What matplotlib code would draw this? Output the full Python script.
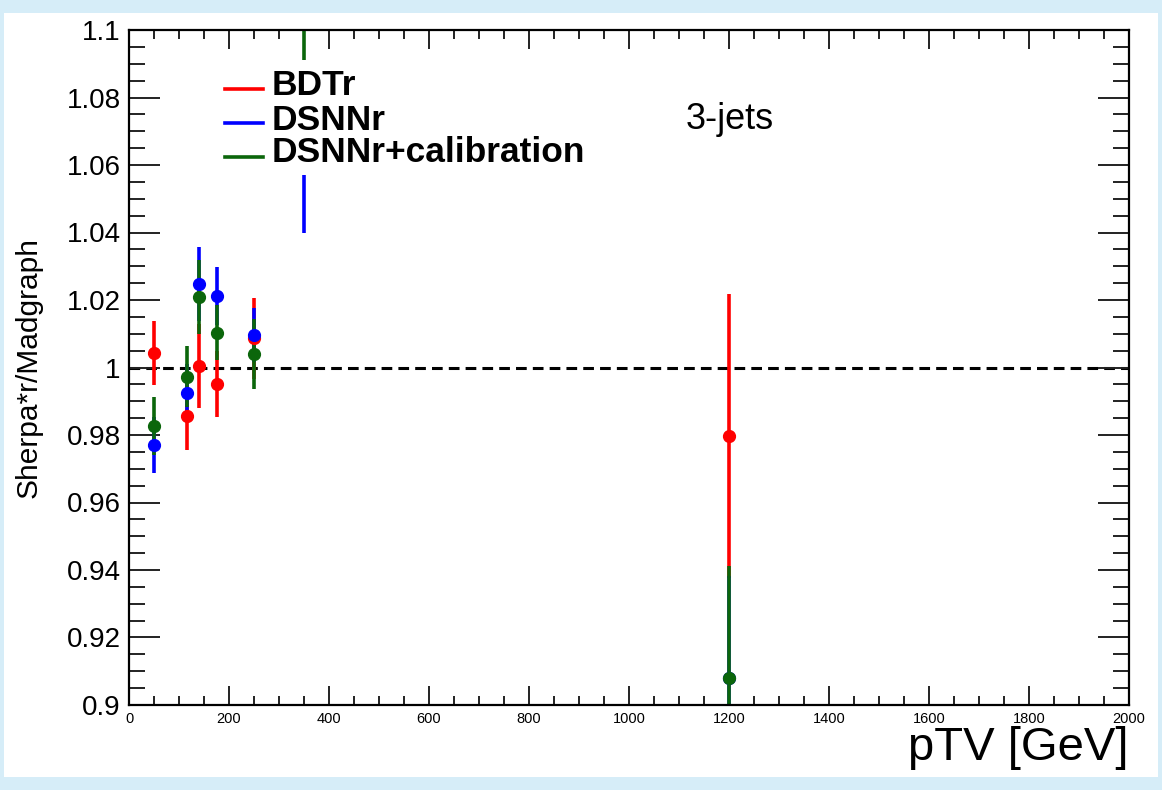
import numpy as np
import matplotlib
matplotlib.use("Agg")
import matplotlib.pyplot as plt
from matplotlib.ticker import MultipleLocator, FuncFormatter
from matplotlib.patches import Rectangle

plt.rcParams['font.family'] = ['Liberation Sans', 'DejaVu Sans']

# pTV bin centres [GeV]
ptv = [50, 115, 140, 175, 250, 350, 1200]

# Sherpa*r/Madgraph ratios and errors
bdt_val = [1.0044, 0.9856, 1.0005, 0.9951, 1.0087, 1.075, 0.9797]
bdt_err = [0.0095, 0.0100, 0.0125, 0.0097, 0.0120, 0.016, 0.0420]
dsnn_val = [0.9770, 0.9925, 1.0247, 1.0212, 1.0096, 1.065, 0.9081]
dsnn_err = [0.0083, 0.0085, 0.0110, 0.0085, 0.0080, 0.025, 0.0300]
cal_val = [0.9827, 0.9973, 1.0210, 1.0103, 1.0040, 1.085, 0.9081]
cal_err = [0.0087, 0.0090, 0.0110, 0.0082, 0.0105, 0.028, 0.0330]

series = [
    ("BDTr", bdt_val, bdt_err, "#ff0000"),
    ("DSNNr", dsnn_val, dsnn_err, "#0000ff"),
    ("DSNNr+calibration", cal_val, cal_err, "#0b660b"),
]

fig = plt.figure(figsize=(11.62, 7.90), dpi=100, facecolor="#d6edf8")
# white card of the screenshot
bg = fig.add_axes([0, 0, 1, 1], zorder=-10)
bg.axis("off")
bg.add_patch(Rectangle((4 / 1162, 1 - 777 / 790), 1154 / 1162, 764 / 790,
                       transform=bg.transAxes, facecolor="white",
                       edgecolor="none"))

ax = fig.add_axes([129 / 1162, 85 / 790, 1000 / 1162, 675 / 790])
ax.set_facecolor("white")

for label, val, err, col in series:
    ax.errorbar(ptv, val, yerr=err, fmt="o", color=col, ecolor=col,
                markersize=8.5, elinewidth=2.6, capsize=0, label=label)

ax.axhline(1.0, color="black", linestyle=(0, (3.5, 2)), linewidth=2.2, zorder=1)

ax.set_xlim(0, 2000)
ax.set_ylim(0.9, 1.1)

ax.xaxis.set_major_locator(MultipleLocator(200))
ax.xaxis.set_minor_locator(MultipleLocator(50))
ax.yaxis.set_major_locator(MultipleLocator(0.02))
ax.yaxis.set_minor_locator(MultipleLocator(0.005))
ax.yaxis.set_major_formatter(FuncFormatter(lambda v, p: "%g" % round(v, 3)))

ax.tick_params(axis="both", which="both", direction="in", top=True, right=True,
               color="#222222", width=1.4)
ax.tick_params(axis="y", which="major", length=22, labelsize=20, pad=6)
ax.tick_params(axis="y", which="minor", length=11.5)
ax.tick_params(axis="x", which="major", length=13.5, labelsize=10.5, pad=5)
ax.tick_params(axis="x", which="minor", length=6.5)
for s in ax.spines.values():
    s.set_linewidth(1.6)

ax.set_ylabel("Sherpa*r/Madgraph", fontsize=21.5, labelpad=17)
ax.set_xlabel("pTV [GeV]", fontsize=34, loc="right", labelpad=0)

ax.text(0.557, 0.853, "3-jets", transform=ax.transAxes, fontsize=26,
        ha="left", va="baseline")

# legend drawn by hand (ROOT TLegend style: line handles, white box, no border)
ax.add_patch(Rectangle((0.091, 0.785), 0.38, 0.171, transform=ax.transAxes,
                       facecolor="white", edgecolor="none", zorder=5))
leg_line_y = [0.9126, 0.8627, 0.8119]
leg_text_y = [0.904, 0.852, 0.804]
for (label, val, err, col), ly, ty in zip(series, leg_line_y, leg_text_y):
    ax.plot([0.096, 0.134], [ly, ly], color=col, linewidth=2.6,
            transform=ax.transAxes, zorder=6)
    ax.text(0.143, ty, label, transform=ax.transAxes, fontsize=25.5,
            fontweight="bold", ha="left", va="baseline", zorder=6)

fig.savefig("out.png", dpi=100, facecolor=fig.get_facecolor())
